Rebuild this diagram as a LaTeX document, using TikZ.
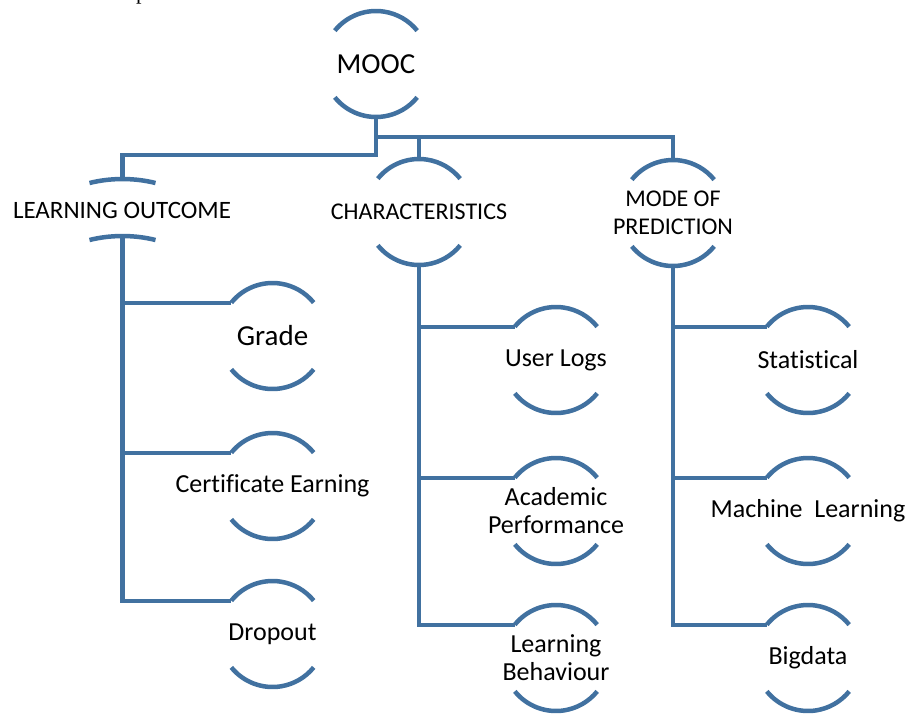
\documentclass[tikz,border=0pt]{standalone}
\usepackage{fontspec}
\setmainfont{Carlito}[Ligatures=NoCommon]
\newfontfamily\serifbody{Liberation Serif}
\usetikzlibrary{calc}
\definecolor{ringblue}{RGB}{65,113,160}
\begin{document}
\begin{tikzpicture}[x=1pt,y=1pt,
  conn/.style={draw=ringblue,line width=4.2pt},
  ringline/.style={draw=ringblue,line width=4.5pt},
  hub/.style={circle,minimum size=106pt,inner sep=0pt,outer sep=0pt},
  lbl/.style={font=\fontsize{26}{28}\selectfont,align=center,inner sep=0pt},
  caplbl/.style={font=\fontsize{24}{28}\selectfont,align=center,inner sep=0pt},
  biglbl/.style={font=\fontsize{29}{30}\selectfont,align=center,inner sep=0pt}]
\useasboundingbox (0,0) rectangle (908,-713);

% stray descender of the line above
\node[font=\serifbody\fontsize{22}{22}\selectfont,anchor=base west,inner sep=0pt] (ptop) at (136,0.5) {p};

% ring placeholders
\node[hub] (mooc)  at (376,-64) {};
\node[hub] (char)  at (419,-212) {};
\node[hub] (mode)  at (673,-213) {};
\node[hub] (grade) at (272.5,-336) {};
\node[hub] (cert)  at (272.5,-486) {};
\node[hub] (drop)  at (272.5,-634) {};
\node[hub] (ulogs) at (556,-360) {};
\node[hub] (acad)  at (556,-511) {};
\node[hub] (lbeh)  at (556,-658) {};
\node[hub] (stat)  at (808,-360) {};
\node[hub] (ml)    at (808,-511) {};
\node[hub] (big)   at (808,-658) {};

% labels
\node[biglbl] (mooc-t)  at (mooc)  {MOOC};
\node[caplbl] (char-t)  at (char)  {CHARACTERISTICS};
\node[caplbl] (mode-t)  at (mode)  {MODE OF\\PREDICTION};
\node[biglbl] (grade-t) at (grade) {Grade};
\node[lbl]    (cert-t)  at (cert)  {Certificate Earning};
\node[lbl]    (drop-t)  at (drop)  {Dropout};
\node[lbl]    (ulogs-t) at (ulogs) {User Logs};
\node[lbl]    (acad-t)  at (acad)  {Academic\\Performance};
\node[lbl]    (lbeh-t)  at (lbeh)  {Learning\\Behaviour};
\node[lbl]    (stat-t)  at (stat)  {Statistical};
\node[lbl]    (ml-t)    at (ml)    {Machine\ \ Learning};
\node[lbl]    (big-t)   at (big)   {Bigdata};

% open rings: top and bottom arcs only
\foreach \n in {mooc,char,mode,grade,cert,drop,ulogs,acad,lbeh,stat,ml,big}{
  \draw[ringline] (\n.141) arc[start angle=141,end angle=39,radius=53];
  \draw[ringline] (\n.219) arc[start angle=219,end angle=321,radius=53];
}

% flattened node for the learning outcome
\coordinate (lo-top) at (122.5,-179);
\coordinate (lo-bot) at (122.5,-236);
\node[caplbl,font=\fontsize{25}{28}\selectfont] (lo-t) at (122,-210) {LEARNING OUTCOME};
\draw[ringline] ($(lo-top)+(-33,-4)$) .. controls +(21,5.3) and +(-21,5.3) .. ($(lo-top)+(33,-4)$);
\draw[ringline] ($(lo-bot)+(-33,-4)$) .. controls +(21,5.3) and +(-21,5.3) .. ($(lo-bot)+(33,-4)$);

% top-level connectors
\coordinate (j1) at (376,-137);
\coordinate (j2) at (376,-155);
\draw[conn] (mooc.south) -- (j2) -| (lo-top);
\draw[conn] (j1) -| (mode.north);
\draw[conn] (char.north) -- (char.north |- j1);

% learning outcome branch
\draw[conn] (lo-bot) |- (drop.141);
\draw[conn] (lo-bot |- grade.141) -- (grade.141);
\draw[conn] (lo-bot |- cert.141) -- (cert.141);

% characteristics branch
\draw[conn] (char.south) |- (lbeh.141);
\draw[conn] (char.south |- ulogs.141) -- (ulogs.141);
\draw[conn] (char.south |- acad.141) -- (acad.141);

% mode of prediction branch
\draw[conn] (mode.south) |- (big.141);
\draw[conn] (mode.south |- stat.141) -- (stat.141);
\draw[conn] (mode.south |- ml.141) -- (ml.141);
\end{tikzpicture}
\end{document}
